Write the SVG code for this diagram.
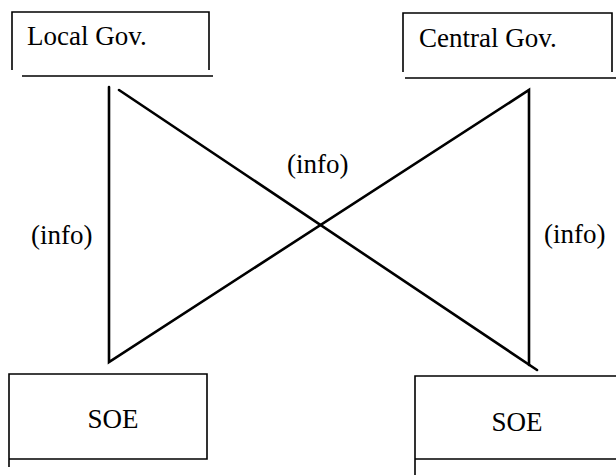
<svg xmlns="http://www.w3.org/2000/svg" width="616" height="475" viewBox="0 0 616 475">
<rect width="616" height="475" fill="#fff"/>
<g font-family="Liberation Serif" font-size="27" fill="#000">
<g id="local-gov">
<path fill="none" stroke="#000" stroke-width="1.6" d="M12,70 V12 H209 V70 M22,76 H213"/>
<text x="27" y="45">Local Gov.</text>
</g>
<g id="central-gov">
<path fill="none" stroke="#000" stroke-width="1.6" d="M403,72 V13 H612 V72 M405,78 H616"/>
<text x="419" y="47">Central Gov.</text>
</g>
<g id="soe-left">
<path fill="none" stroke="#000" stroke-width="1.6" d="M9,467 V374 H207 V459 H9"/>
<text x="113" y="428" text-anchor="middle">SOE</text>
</g>
<g id="soe-right">
<path fill="none" stroke="#000" stroke-width="1.6" d="M616,376 H415 V475 M415,459 H616"/>
<text x="517" y="431" text-anchor="middle">SOE</text>
</g>
<g id="connectors" fill="none" stroke="#000" stroke-width="2.6" stroke-linecap="round">
<path d="M109,87 V362 L529,90 V365"/>
<path d="M119,90 L537,370"/>
</g>
<g id="labels">
<text x="31" y="244">(info)</text>
<text x="287" y="173">(info)</text>
<text x="544" y="243">(info)</text>
</g>
</g>
</svg>
